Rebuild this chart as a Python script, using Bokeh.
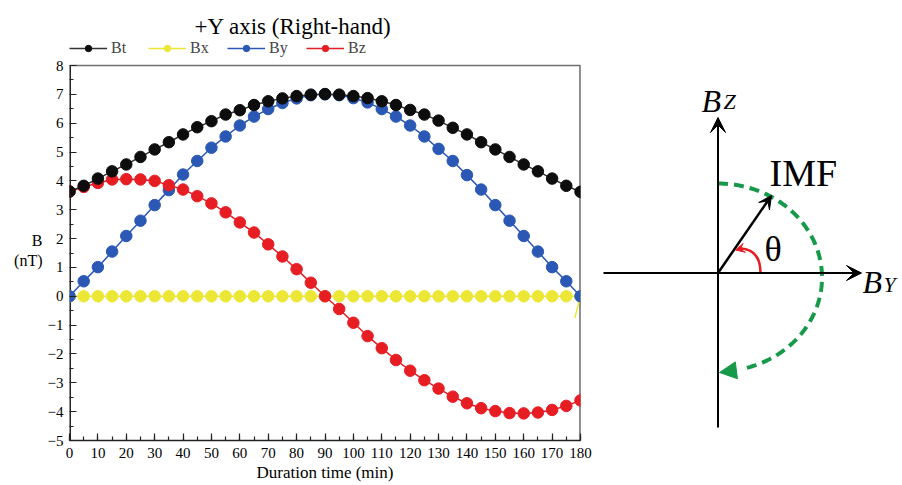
import numpy as np
from bokeh.plotting import figure
from bokeh.layouts import row
from bokeh.models import (Range1d, Legend, LegendItem, Label, Arrow, VeeHead, Title,
                          NormalHead, SingleIntervalTicker, FixedTicker)
from bokeh.embed import file_html
from bokeh.resources import INLINE

SERIF = "'Liberation Serif', 'Times New Roman', serif"

# ---- data: IMF components sampled every 5 minutes ----
minutes = list(range(0, 181, 5))
bt = [3.63, 3.83, 4.08, 4.33, 4.57, 4.83, 5.09, 5.34, 5.61, 5.86, 6.07, 6.30, 6.45,
      6.63, 6.76, 6.86, 6.94, 6.99, 7.01, 6.99, 6.94, 6.87, 6.76, 6.63, 6.46,
      6.30, 6.09, 5.84, 5.61, 5.34, 5.09, 4.83, 4.57, 4.33, 4.08, 3.83, 3.62]
bx = [0.0] * 37
by = [0.00, 0.52, 1.01, 1.55, 2.09, 2.62, 3.16, 3.68, 4.22, 4.69, 5.15, 5.54, 5.92,
      6.23, 6.49, 6.70, 6.86, 6.97, 7.00, 6.97, 6.87, 6.72, 6.49, 6.23, 5.92,
      5.54, 5.11, 4.69, 4.20, 3.70, 3.16, 2.62, 2.09, 1.55, 1.01, 0.52, 0.00]
bz = [3.63, 3.79, 3.93, 4.05, 4.06, 4.05, 4.00, 3.85, 3.70, 3.47, 3.22, 2.91, 2.56,
      2.21, 1.80, 1.38, 0.94, 0.47, 0.00, -0.44, -0.92, -1.38, -1.80, -2.21, -2.58,
      -2.91, -3.20, -3.48, -3.71, -3.88, -3.98, -4.05, -4.06, -4.03, -3.94, -3.80, -3.61]
# short trailing segment of the Bx trace at the end of the window
bx_tail_t = [180, 178]
bx_tail_v = [0.0, -0.75]

series_names = ["Bt", "Bx", "By", "Bz"]
y_ticks = list(range(-5, 9))
y_minor_ticks = [v + 0.5 for v in range(-5, 8)]
x_tick_step = 10

C_BT, C_BT_LINE = "#0d0d0d", "#333333"
C_BX = "#ece635"
C_BY = "#2a58b4"
C_BZ = "#e71d24"
C_GREEN = "#17994a"

# ---- left: time series plot ----
# plot box spans x 69..580 px and y 65..440 px; the frame reaches up to 40 px
# so the legend row can sit above the box
FL, FR, FB = 69, 580, 440
BOX_TOP, FRAME_TOP = 65, 40
X0, X1, Y0, Y1 = 0, 180, -5, 8
px_per_unit = (FB - BOX_TOP) / (Y1 - Y0)
Y_END = Y1 + (BOX_TOP - FRAME_TOP) / px_per_unit

p = figure(width=600, height=485, x_range=Range1d(X0, X1), y_range=Range1d(Y0, Y_END),
           output_backend="svg", toolbar_location=None, title=None,
           min_border_left=FL, min_border_right=600 - FR,
           min_border_top=FRAME_TOP, min_border_bottom=485 - FB)
p.grid.visible = False
p.outline_line_color = None
p.background_fill_color = "white"
p.border_fill_color = "white"

p.xaxis.ticker = SingleIntervalTicker(interval=x_tick_step, num_minor_ticks=2)
p.yaxis.ticker = FixedTicker(ticks=y_ticks, minor_ticks=y_minor_ticks)
for ax in (p.xaxis[0], p.yaxis[0]):
    ax.axis_line_color = "#222222"
    ax.axis_line_width = 1.5
    ax.major_tick_in = 7
    ax.major_tick_out = 0
    ax.minor_tick_in = 4
    ax.minor_tick_out = 0
    ax.major_tick_line_color = "#222222"
    ax.minor_tick_line_color = "#222222"
    ax.major_tick_line_width = 1.2
    ax.minor_tick_line_width = 1.2
    ax.major_label_text_font = SERIF
    ax.major_label_text_font_size = "15px"
    ax.major_label_text_color = "black"
    ax.axis_label_text_font = SERIF
    ax.axis_label_text_font_style = "normal"
    ax.axis_label_text_color = "black"
p.yaxis.axis_line_color = None
p.xaxis.major_label_standoff = 7
p.yaxis.major_label_standoff = 6
p.xaxis.axis_label = "Duration time (min)"
p.xaxis.axis_label_text_font_size = "17px"
p.xaxis.axis_label_standoff = 2

yax = p.yaxis[0]
yax.axis_label = "\nB\n(nT)"
yax.axis_label_text_font_size = "16px"
yax.axis_label_standoff = 2
if "axis_label_orientation" in yax.properties():
    yax.axis_label_orientation = "horizontal"

# plot box: dark left edge, grey top and right edges
p.line([X0, X0], [Y0, Y1], line_color="#222222", line_width=3)
p.line([X0, X1, X1], [Y1, Y1, Y0], line_color="#707070", line_width=1.5)
p.line([X1, X1], [Y0, Y1], line_color="#707070", line_width=2.5)

renderers = {}
for name, vals, col, lcol in [("Bx", bx, C_BX, C_BX), ("By", by, C_BY, C_BY),
                              ("Bz", bz, C_BZ, C_BZ), ("Bt", bt, C_BT, C_BT_LINE)]:
    ln = p.line(minutes, vals, line_color=lcol, line_width=1.5)
    pts = p.scatter(minutes, vals, size=11.5, fill_color=col, line_color=col, line_width=1)
    renderers[name] = [ln, pts]
    if name == "Bx":
        p.line(bx_tail_t, bx_tail_v, line_color=C_BX, line_width=1.5)

legend = Legend(items=[LegendItem(label=n, renderers=renderers[n]) for n in series_names],
                orientation="horizontal", location=(0, FB - 56.5),
                padding=0, margin=0, spacing=17, glyph_width=38, glyph_height=16,
                label_standoff=4, label_width=20, label_height=16,
                label_text_font=SERIF, label_text_font_size="16px",
                border_line_alpha=0, background_fill_alpha=0)
p.add_layout(legend)

p.add_layout(Title(text="+Y axis (Right-hand)", align="left", offset=125, standoff=3,
                   text_font=SERIF, text_font_size="23px", text_font_style="normal",
                   text_color="black"), "above")

# ---- right: IMF clock-angle sketch (pixel coordinates, y downward) ----
q = figure(width=302, height=485, x_range=Range1d(600, 902),
           y_range=Range1d(FB, FRAME_TOP),
           output_backend="svg", toolbar_location=None, title=None,
           min_border_left=0, min_border_right=0,
           min_border_top=FRAME_TOP, min_border_bottom=485 - FB,
           x_axis_type=None, y_axis_type=None)
q.grid.visible = False
q.outline_line_color = None
q.background_fill_color = "white"
q.border_fill_color = "white"

OX, OY = 717.5, 272.5

# rotation path of the IMF vector (dashed, clockwise from +Bz to -Bz)
ang = np.linspace(np.pi / 2, -np.radians(76), 160)
q.line(OX + 104 * np.cos(ang), 277 - 94 * np.sin(ang), line_color=C_GREEN,
       line_width=4, line_dash="10 6")
q.add_layout(Arrow(x_start=746, y_start=368.5, x_end=719, y_end=372, line_alpha=0,
                   end=NormalHead(size=17, fill_color=C_GREEN, line_color=C_GREEN)))

# coordinate axes
q.add_layout(Arrow(x_start=603, y_start=OY, x_end=861, y_end=OY, line_width=2,
                   line_color="black",
                   end=VeeHead(size=15, fill_color="black", line_color="black", line_width=1)))
q.add_layout(Arrow(x_start=OX, y_start=427, x_end=OX, y_end=117, line_width=2,
                   line_color="black",
                   end=VeeHead(size=15, fill_color="black", line_color="black", line_width=1)))

# IMF vector
q.add_layout(Arrow(x_start=OX, y_start=OY, x_end=771, y_end=195, line_width=2.5,
                   line_color="black",
                   end=VeeHead(size=13, fill_color="black", line_color="black", line_width=1)))

# clock angle
q.quadratic(x0=760, y0=OY, x1=740, y1=248, cx=760, cy=249, line_color=C_BZ, line_width=2.5)
q.add_layout(Arrow(x_start=742, y_start=247.8, x_end=735, y_end=249.5, line_width=2.5,
                   line_color=C_BZ,
                   end=VeeHead(size=9, fill_color=C_BZ, line_color=C_BZ, line_width=1)))

for txt, x, y, size, style in [("B", 701, 100, "32px", "italic"),
                               ("Z", 723, 101, "22px", "italic"),
                               ("B", 862, 281, "32px", "italic"),
                               ("Y", 883, 284, "22px", "italic"),
                               ("IMF", 769, 172, "38px", "normal"),
                               ("θ", 764, 248, "36px", "normal")]:
    q.add_layout(Label(x=x, y=y, text=txt, text_font=SERIF, text_font_size=size,
                       text_font_style=style, text_baseline="alphabetic",
                       text_align="left", text_color="black"))

layout = row(p, q, spacing=0)
open("out.html", "w").write(file_html(layout, INLINE))
